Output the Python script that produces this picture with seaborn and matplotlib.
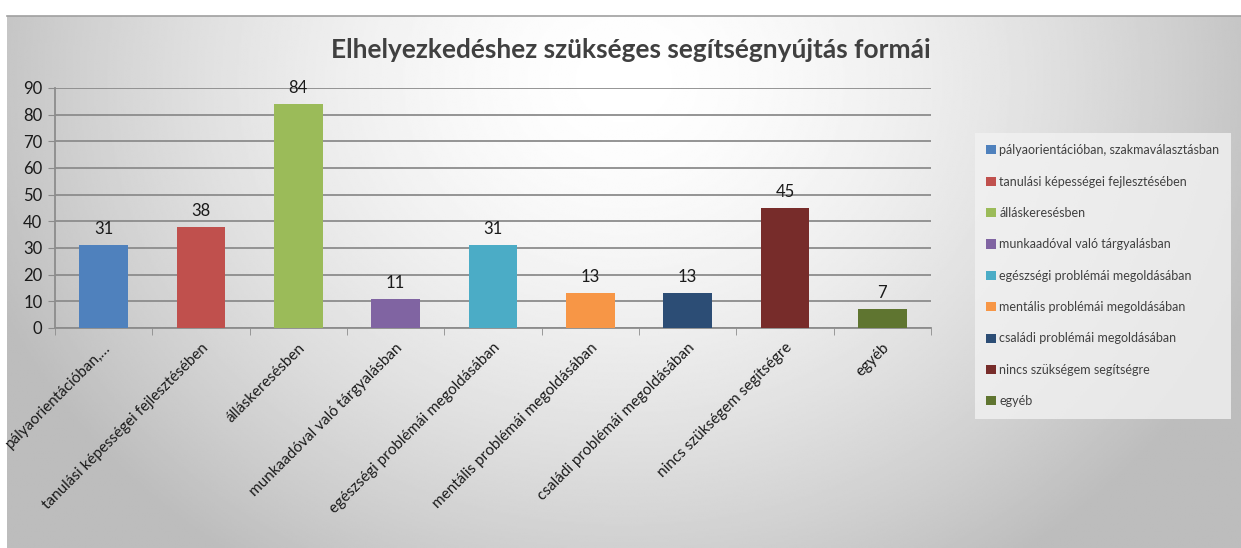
import numpy as np
import pandas as pd
import matplotlib
matplotlib.use('Agg')
import matplotlib.pyplot as plt
from matplotlib.patches import Patch
import seaborn as sns

# Chart data
categories = ['pályaorientációban, szakmaválasztásban',
              'tanulási képességei fejlesztésében',
              'álláskeresésben',
              'munkaadóval való tárgyalásban',
              'egészségi problémái megoldásában',
              'mentális problémái megoldásában',
              'családi problémái megoldásában',
              'nincs szükségem segítségre',
              'egyéb']
tick_labels = ['pályaorientációban,…'] + categories[1:]
values = [31, 38, 84, 11, 31, 13, 13, 45, 7]
colors = ['#4F81BD', '#C0504D', '#9BBB59', '#8064A2', '#4BACC6',
          '#F79646', '#2C4D75', '#772C2A', '#5F7530']
title = 'Elhelyezkedéshez szükséges segítségnyújtás formái'

df = pd.DataFrame({'cat': categories, 'val': values})

sns.set_style('white')
plt.rcParams['font.family'] = ['Lato', 'DejaVu Sans']

fig = plt.figure(figsize=(12.41, 5.48), dpi=100)
W, H = 1241, 548

# gradient background of the chart area
bg = fig.add_axes([7 / W, 0, 1 - 7 / W, 1 - 16 / H], zorder=0)
yy, xx = np.mgrid[0:1:300j, 0:1:700j]
r = np.sqrt(((xx - 0.5) / 0.55) ** 2 + ((yy - 0.12) / 1.1) ** 2)
shade = 1 - 0.26 * np.clip(r, 0, 1) ** 1.6
bg.imshow(shade, cmap='gray', vmin=0, vmax=1, aspect='auto',
          extent=[0, 1, 1, 0], interpolation='bilinear')
bg.set_xticks([])
bg.set_yticks([])
for s in ['left', 'bottom', 'right']:
    bg.spines[s].set_visible(False)
bg.spines['top'].set_color('#a0a0a0')
bg.spines['top'].set_linewidth(1.2)

ax = fig.add_axes([55 / W, 1 - 328 / H, (931 - 55) / W, (328 - 88) / H], zorder=2)
ax.patch.set_alpha(0)
sns.barplot(data=df, x='cat', y='val', hue='cat', palette=colors,
            width=0.5, legend=False, ax=ax, saturation=1, zorder=3,
            linewidth=0)

ax.set_ylim(0, 90)
ax.set_xlim(-0.5, len(categories) - 0.5)
ax.set_yticks(range(0, 91, 10))
ax.yaxis.grid(True, color='#8c8c8c', linewidth=1.3)
ax.set_axisbelow(True)
ax.set_xlabel('')
ax.set_ylabel('')
for s in ['top', 'right']:
    ax.spines[s].set_visible(False)
for s in ['left', 'bottom']:
    ax.spines[s].set_color('#8c8c8c')
    ax.spines[s].set_linewidth(1.3)

ax.tick_params(axis='y', length=5, color='#8c8c8c', labelsize=12, pad=4,
               direction='out', left=True, labelcolor='#1a1a1a')
ax.set_xticks(np.arange(len(categories)))
ax.set_xticklabels(tick_labels, rotation=45, ha='right', rotation_mode='anchor',
                   fontsize=11, color='#1a1a1a')
ax.tick_params(axis='x', length=0, pad=9)
ax.set_xticks(np.arange(len(categories) + 1) - 0.5, minor=True)
ax.tick_params(axis='x', which='minor', length=5, color='#8c8c8c',
               direction='out', bottom=True)

for i, v in enumerate(values):
    ax.text(i, v + 3, str(v), ha='center', va='bottom', fontsize=12, color='#1a1a1a')

fig.text(631 / W, 1 - 50 / H, title, ha='center', va='center',
         fontsize=18.9, fontweight='bold', color='#404040', zorder=3)

# legend
handles = [Patch(facecolor=c, edgecolor='none') for c in colors]
leg = fig.legend(handles, categories, loc='upper left',
                 bbox_to_anchor=(975 / W, 1 - 133 / H), frameon=True,
                 fontsize=9, handlelength=0.75, handleheight=0.75,
                 handletextpad=0.3, labelspacing=1.55, borderpad=0.9,
                 borderaxespad=0, fancybox=False)
leg.get_frame().set_facecolor('#f2f2f2')
leg.get_frame().set_edgecolor('none')
for t in leg.get_texts():
    t.set_color('#404040')
leg.set_zorder(4)

fig.savefig('out.png', dpi=100, facecolor='white')
